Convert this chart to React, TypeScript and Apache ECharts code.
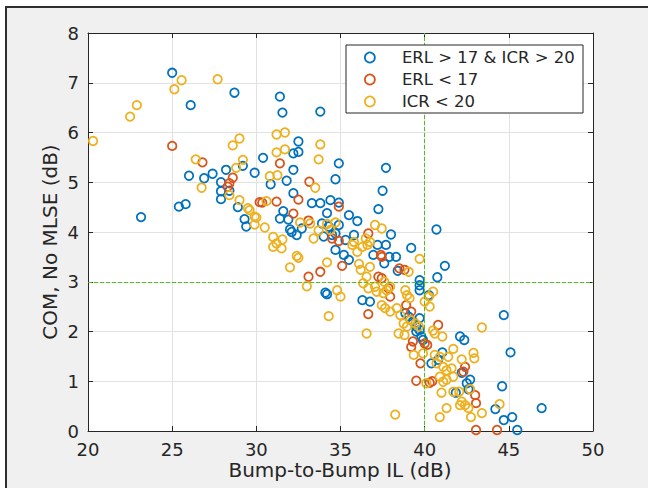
import React, { useEffect, useRef } from "react";
import * as echarts from "echarts";

const seriesNames = ["ERL > 17 & ICR > 20", "ERL < 17", "ICR < 20"];
const seriesColors = ["#0072BD", "#D95319", "#EDB120"];

const blueData: number[][] = [
  [25.0, 7.2], [26.1, 6.55], [28.7, 6.8], [31.4, 6.72], [31.55, 6.4], [33.8, 6.42],
  [32.5, 5.82], [32.2, 5.58], [32.5, 5.61], [30.4, 5.49], [34.9, 5.38], [37.7, 5.29],
  [29.2, 5.33], [29.9, 5.19], [32.2, 5.25], [30.85, 4.96], [31.8, 5.03], [34.7, 5.06], [37.5, 4.83], [32.2, 4.78],
  [26.0, 5.13], [26.9, 5.08], [27.4, 5.17], [28.2, 5.25], [27.9, 5.0], [27.9, 4.82], [28.4, 4.83], [27.9, 4.66],
  [25.4, 4.51], [25.8, 4.56], [23.15, 4.3], [28.9, 4.5], [29.3, 4.26], [29.4, 4.11],
  [33.3, 4.58], [33.8, 4.58], [34.4, 4.64], [34.9, 4.59], [37.25, 4.46], [35.5, 4.34], [36.0, 4.22], [34.2, 4.38],
  [31.4, 4.27], [31.6, 4.42], [31.9, 4.25], [32.1, 4.0], [32.0, 4.05], [32.7, 4.07], [32.4, 3.94],
  [33.9, 4.17], [34.3, 4.11], [34.0, 3.91], [34.5, 3.94], [34.9, 4.14], [34.7, 3.97],
  [34.7, 3.64], [35.2, 3.54], [35.5, 3.44], [35.3, 3.84], [35.8, 3.94],
  [37.2, 3.74], [36.95, 3.54], [37.6, 3.37], [37.9, 3.5], [37.7, 3.74], [38.0, 3.95], [38.3, 3.5],
  [39.2, 3.68], [38.4, 3.22], [39.7, 3.03], [39.7, 2.93], [39.7, 2.83], [34.1, 2.78], [34.2, 2.75], [36.3, 2.63], [36.75, 2.6],
  [40.7, 4.05], [41.2, 3.32], [40.75, 3.09], [40.25, 2.73],
  [38.85, 2.37], [39.05, 2.3], [39.3, 2.2], [39.5, 2.1], [39.7, 2.03], [39.5, 2.0], [39.8, 1.9], [39.9, 1.83], [39.7, 2.27],
  [44.7, 2.33], [42.1, 1.9], [42.35, 1.83], [45.1, 1.58], [41.05, 1.58], [40.8, 1.43], [40.4, 1.36],
  [42.2, 1.17], [42.7, 1.03], [42.5, 0.96], [44.6, 0.9], [41.85, 0.77], [42.6, 0.84], [44.2, 0.44], [46.95, 0.46],
  [44.7, 0.22], [45.2, 0.28], [45.5, 0.02],
];

const redData: number[][] = [
  [25.0, 5.73], [26.8, 5.4], [28.6, 5.09], [28.4, 4.98], [28.3, 4.91], [30.2, 4.6], [31.2, 4.61], [31.4, 5.38],
  [33.15, 5.01], [32.5, 4.65], [30.35, 4.59], [34.9, 4.51], [32.2, 4.37], [33.1, 4.23], [34.5, 3.87], [34.9, 3.82],
  [36.65, 3.97], [37.4, 3.54], [37.45, 3.5], [38.5, 3.27], [38.8, 3.24], [35.1, 3.32], [33.8, 3.2], [33.1, 3.1],
  [37.25, 3.1], [37.45, 3.07], [36.65, 2.35], [37.85, 2.87], [37.95, 2.7], [38.9, 2.53], [39.2, 2.4],
  [39.2, 1.69], [39.3, 1.8], [39.75, 1.36], [39.5, 1.01], [40.8, 2.13], [40.0, 1.76], [40.15, 1.73],
  [42.4, 1.29], [42.3, 1.19], [40.3, 0.97], [40.45, 1.0], [43.0, 0.72], [43.05, 0.56], [43.05, 0.02], [44.3, 0.02],
];

const yellowData: number[][] = [
  [25.56, 7.05], [25.13, 6.87], [27.7, 7.07], [22.9, 6.55], [22.5, 6.32], [20.3, 5.83],
  [29.0, 5.88], [28.6, 5.74], [26.4, 5.46], [29.2, 5.45], [28.8, 5.29], [26.75, 4.89], [28.4, 4.74], [29.0, 4.64], [29.5, 4.48], [29.9, 4.31],
  [31.2, 5.96], [31.7, 6.0], [31.2, 5.6], [31.7, 5.66], [33.8, 5.76], [33.7, 5.46], [30.8, 5.12], [31.25, 5.14], [33.5, 4.89], [30.6, 4.62],
  [29.6, 4.44], [30.0, 4.29], [29.9, 4.15], [30.5, 4.09],
  [31.0, 3.9], [31.2, 3.77], [31.5, 3.67], [31.0, 3.7], [31.55, 3.85], [32.4, 3.52], [32.5, 3.48], [32.0, 3.29],
  [32.6, 4.19], [33.2, 4.17], [33.4, 3.87], [33.7, 4.03], [34.2, 4.16], [34.7, 4.19], [34.4, 4.04],
  [35.7, 3.74], [36.0, 3.6], [35.8, 3.8], [36.3, 3.7], [36.5, 3.87], [36.75, 3.8], [36.6, 3.74],
  [37.05, 4.14], [37.45, 4.07], [39.7, 3.46], [36.1, 3.36], [36.2, 3.24], [36.75, 3.3], [34.2, 3.39],
  [33.0, 2.91], [36.55, 3.1], [36.35, 2.97], [36.65, 2.87], [37.05, 2.9], [37.15, 2.8], [37.6, 3.0], [37.75, 2.83], [37.95, 2.9], [37.55, 2.77],
  [34.8, 2.83], [35.0, 2.7], [34.3, 2.31], [36.55, 1.96],
  [37.45, 2.53], [37.65, 2.47], [37.95, 2.4], [38.35, 2.47], [38.55, 2.33], [38.75, 2.16], [38.95, 2.1], [39.15, 2.23], [39.45, 2.16], [39.65, 2.1],
  [38.8, 1.93], [38.45, 1.96], [39.35, 1.53], [40.1, 0.96], [38.25, 0.33],
  [39.05, 3.2], [40.5, 2.8], [40.25, 2.7], [40.0, 2.6], [40.3, 2.5], [38.85, 2.83], [38.95, 2.73], [39.1, 2.67],
  [43.4, 2.08], [40.5, 2.02], [40.6, 1.96], [41.05, 1.9], [39.9, 1.56],
  [40.6, 1.53], [40.9, 1.49], [41.7, 1.65], [41.4, 1.49], [42.2, 1.44], [42.9, 1.57], [42.95, 1.46],
  [40.7, 1.36], [41.1, 1.29], [41.3, 1.22], [41.6, 1.26], [40.9, 1.09], [41.3, 1.03], [41.7, 1.09], [41.1, 0.99],
  [41.7, 0.79], [42.05, 0.79], [42.7, 0.84], [41.0, 0.77], [42.2, 0.59], [42.4, 0.52], [42.1, 0.52], [42.6, 0.46],
  [44.45, 0.54], [41.3, 0.46], [40.9, 0.28], [42.75, 0.28], [43.4, 0.36],
];

const xTickValues = [20, 25, 30, 35, 40, 45, 50];
const yTickValues = [0, 1, 2, 3, 4, 5, 6, 7, 8];
const thresholdIL = 40;
const thresholdCOM = 3;
const xAxisTitle = "Bump-to-Bump IL (dB)";
const yAxisTitle = "COM, No MLSE (dB)";

const FONT = "DejaVu Sans";
const INK = "#262626";

export default function App() {
  const ref = useRef<HTMLDivElement>(null);

  useEffect(() => {
    if (!ref.current) return;
    const chart = echarts.init(ref.current, undefined, { renderer: "svg" });

    const xMin = xTickValues[0];
    const xMax = xTickValues[xTickValues.length - 1];
    const xStep = xTickValues[1] - xTickValues[0];
    const yMin = yTickValues[0];
    const yMax = yTickValues[yTickValues.length - 1];
    const yStep = yTickValues[1] - yTickValues[0];

    const axisLine = { show: true, onZero: false, lineStyle: { color: INK, width: 1 } };
    const axisTick = { show: true, inside: true, length: 5, lineStyle: { color: INK, width: 1 } };
    const splitLine = { show: true, lineStyle: { color: "#e2e2e2", width: 1 } };

    const datasets = [blueData, redData, yellowData];

    const series: any[] = datasets.map((d, i) => ({
      name: seriesNames[i],
      type: "scatter",
      data: d,
      symbol: "circle",
      symbolSize: 8.5,
      itemStyle: {
        color: "rgba(0,0,0,0)",
        borderColor: seriesColors[i],
        borderWidth: 1.75,
        opacity: 1,
      },
      emphasis: { disabled: true },
      z: 2 + i,
    }));

    series[2].markLine = {
      silent: true,
      symbol: ["none", "none"],
      label: { show: false },
      lineStyle: { color: "#4fc21a", width: 1, type: [4, 2] },
      data: [{ xAxis: thresholdIL }, { yAxis: thresholdCOM }],
    };

    chart.setOption({
      animation: false,
      backgroundColor: "#ffffff",
      grid: {
        left: 88,
        top: 33,
        width: 505,
        height: 398,
        show: true,
        backgroundColor: "#ffffff",
        borderColor: "rgba(0,0,0,0)",
        borderWidth: 0,
      },
      xAxis: [
        {
          type: "value",
          position: "bottom",
          min: xMin,
          max: xMax,
          interval: xStep,
          axisLine,
          axisTick,
          splitLine,
          axisLabel: { fontSize: 18, color: INK, margin: 9, fontFamily: FONT },
        },
        {
          type: "value",
          position: "top",
          min: xMin,
          max: xMax,
          interval: xStep,
          axisLine,
          axisTick,
          splitLine: { show: false },
          axisLabel: { show: false },
        },
      ],
      yAxis: [
        {
          type: "value",
          position: "left",
          min: yMin,
          max: yMax,
          interval: yStep,
          axisLine,
          axisTick,
          splitLine,
          axisLabel: { fontSize: 18, color: INK, margin: 9, fontFamily: FONT },
        },
        {
          type: "value",
          position: "right",
          min: yMin,
          max: yMax,
          interval: yStep,
          axisLine,
          axisTick,
          splitLine: { show: false },
          axisLabel: { show: false },
        },
      ],
      legend: {
        orient: "vertical",
        left: 364,
        top: 49,
        padding: 0,
        itemWidth: 54,
        itemHeight: 10,
        itemGap: 5,
        z: 10,
        selectedMode: false,
        textStyle: { fontSize: 16.5, color: INK, fontFamily: FONT },
        data: seriesNames.map((n, i) => ({
          name: n,
          icon: "circle",
          itemStyle: { color: "rgba(0,0,0,0)", borderColor: seriesColors[i], borderWidth: 1.75 },
        })),
      },
      graphic: [
        {
          type: "rect",
          z: -10,
          silent: true,
          shape: { x: 6, y: 7, width: 700, height: 600 },
          style: { fill: "#f0f0f0", stroke: "#2e2e2e", lineWidth: 2 },
        },
        {
          type: "rect",
          z: 8,
          silent: true,
          shape: { x: 346, y: 45, width: 237, height: 68 },
          style: { fill: "#ffffff", stroke: INK, lineWidth: 1 },
        },
        {
          type: "text",
          z: 8,
          x: 340,
          y: 470,
          style: {
            text: xAxisTitle,
            fontSize: 20,
            fontFamily: FONT,
            fill: INK,
            align: "center",
            verticalAlign: "middle",
          },
        },
        {
          type: "text",
          z: 8,
          x: 50,
          y: 242,
          rotation: Math.PI / 2,
          style: {
            text: yAxisTitle,
            fontSize: 20,
            fontFamily: FONT,
            fill: INK,
            align: "center",
            verticalAlign: "middle",
          },
        },
      ],
      series,
    });

    return () => chart.dispose();
  }, []);

  return (
    <div
      ref={ref}
      style={{ position: "fixed", left: 0, top: 0, width: 648, height: 488 }}
    />
  );
}
